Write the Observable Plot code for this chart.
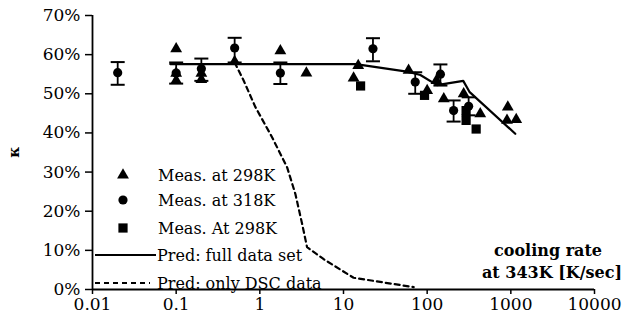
<!DOCTYPE html>
<html><head><meta charset="utf-8">
<script src="https://cdn.jsdelivr.net/npm/d3@7"></script>
<script src="https://cdn.jsdelivr.net/npm/@observablehq/plot@0.6"></script>
<style>body{margin:0;background:#fff}</style>
</head><body><div id="chart"></div>
<script>
// Measured at 298K (triangles): [cooling rate K/s, kappa %]
const tri298 = [[0.1,61.5],[0.1,55.2],[0.1,53.4],[0.2,55.2],[0.2,53.6],[0.5,58.2],[1.76,61],[3.6,55.3],
  [13.2,54],[15,57.2],[60,56],[100,50.8],[129,53.4],[158,48.7],[273,50],[431,44.9],[920,46.6],[900,43.2],[1160,43.4]];
// Measured at 318K (circles with error bars): [rate, value, low, high]
const circ318 = [[0.02,55.4,52.3,58.1],[0.1,55.3,52.6,58],[0.2,56.4,53.3,59],[0.5,61.7,58,64.3],[1.76,55.3,52.5,58],
  [22.5,61.5,58.3,64.2],[72,53,50,55.5],[144,55,52.1,57.5],[207,45.7,42.9,48.3],[313,46.8,44.5,49.1]];
// Measured At 298K (squares)
const sq298 = [[16,52],[93,49.6],[292,45.7],[292,43.2],[385,41]];
// Predictions
const predFull = [[0.085,57.6],[14,57.6],[60,55.6],[83,54.8],[131,52.2],[270,53.3],[320,50.5],[1130,39.8]];
const predDSC = [[0.5,58],[0.64,53.4],[0.885,46.6],[1.4,38.9],[2.12,31.2],[2.66,24.4],[3.2,16.8],[3.67,10.8],[5.75,7.8],[13.2,3],[69,0.6]];
const xTicks = [0.01,0.1,1,10,100,1000,10000];
const yTicks = [0,10,20,30,40,50,60,70];
const legendLabels = ["Meas. at 298K","Meas. at 318K","Meas. At 298K","Pred: full data set","Pred: only DSC data"];
const xTitle = ["cooling rate","at 343K [K/sec]"];
const yTitle = "κ";

const cap = {draw(ctx, size){ const w = 7; ctx.moveTo(-w,0); ctx.lineTo(w,0); }};
const font = "DejaVu Serif";

const chart = Plot.plot({
  width: 635, height: 327,
  marginLeft: 92, marginRight: 41, marginTop: 15, marginBottom: 38,
  style: {fontFamily: font, fontSize: "17px", color: "black", background: "white"},
  x: {type: "log", domain: [0.01, 10000]},
  y: {domain: [0, 70]},
  marks: [
    Plot.axisX({ticks: xTicks, tickFormat: d => String(d), tickSize: 5, tickPadding: 3, fontSize: 17, label: null, strokeWidth: 1.5}),
    Plot.axisY({ticks: yTicks, tickFormat: d => d + "%", tickSize: 7, tickPadding: 5, fontSize: 17, label: null, strokeWidth: 1.5}),
    Plot.ruleY([0], {strokeWidth: 1.8}),
    Plot.ruleX([0.01], {y1: 0, y2: 70, strokeWidth: 1.8}),
    Plot.line(predDSC, {x: d => d[0], y: d => d[1], stroke: "black", strokeWidth: 2.2, strokeDasharray: "5,4"}),
    Plot.line(predFull, {x: d => d[0], y: d => d[1], stroke: "black", strokeWidth: 2.2}),
    Plot.ruleX(circ318, {x: d => d[0], y1: d => d[2], y2: d => d[3], strokeWidth: 1.8}),
    Plot.dot(circ318, {x: d => d[0], y: d => d[2], symbol: cap, stroke: "black", strokeWidth: 2}),
    Plot.dot(circ318, {x: d => d[0], y: d => d[3], symbol: cap, stroke: "black", strokeWidth: 2}),
    Plot.dot(tri298, {x: d => d[0], y: d => d[1], symbol: "triangle", r: 4.4, fill: "black"}),
    Plot.dot(circ318, {x: d => d[0], y: d => d[1], symbol: "circle", r: 4.6, fill: "black"}),
    Plot.dot(sq298, {x: d => d[0], y: d => d[1], symbol: "square", r: 5.2, fill: "black"})
  ]
});
document.getElementById("chart").append(chart);

// Legend and titles (annotation, not data)
const svg = d3.select(chart);
const g = svg.append("g").attr("font-family", font).attr("font-size", 16).attr("fill", "black").attr("text-anchor", "start");
const rows = [175, 200, 228, 255, 283];
const sym = [d3.symbolTriangle, d3.symbolCircle, d3.symbolSquare];
const sizes = [Math.PI*4.4*4.4, Math.PI*4.6*4.6, Math.PI*5.2*5.2];
for (let i = 0; i < 3; i++) {
  g.append("path").attr("d", d3.symbol(sym[i], sizes[i])()).attr("transform", `translate(123,${rows[i]})`).attr("fill", "black");
}
g.append("line").attr("x1", 95).attr("x2", 156).attr("y1", rows[3]).attr("y2", rows[3]).attr("stroke", "black").attr("stroke-width", 2.2);
g.append("line").attr("x1", 95).attr("x2", 150).attr("y1", rows[4]).attr("y2", rows[4]).attr("stroke", "black").attr("stroke-width", 2.2).attr("stroke-dasharray", "5,4");
legendLabels.forEach((t, i) => {
  g.append("text").attr("x", i < 3 ? 158 : 157).attr("y", rows[i]).attr("dy", "0.35em").text(t);
});
const tg = svg.append("g").attr("font-family", font).attr("font-size", 16).attr("font-weight", "bold").attr("text-anchor", "end");
tg.append("text").attr("x", 602).attr("y", 250).attr("dy", "0.35em").text(xTitle[0]);
tg.append("text").attr("x", 622).attr("y", 272).attr("dy", "0.35em").text(xTitle[1]);
svg.append("text").attr("font-family", font).attr("font-size", 15).attr("font-weight", "bold")
  .attr("text-anchor", "middle").attr("transform", "translate(14,152) rotate(-90)").attr("dy", "0.35em").text(yTitle);
</script>
</body></html>
